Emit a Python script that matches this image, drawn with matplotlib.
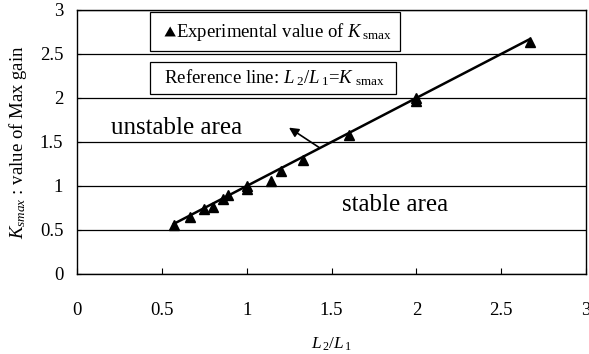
import numpy as np
import matplotlib.pyplot as plt

plt.rcParams['font.family'] = 'Liberation Serif'
plt.rcParams['mathtext.fontset'] = 'custom'
plt.rcParams['mathtext.rm'] = 'Liberation Serif'
plt.rcParams['mathtext.it'] = 'Liberation Serif:italic'
plt.rcParams['mathtext.fallback'] = 'stix'

# experimental points (L2/L1, Ksmax)
ratio = [0.571, 0.667, 0.75, 0.8, 0.857, 0.889, 1.0, 1.0, 1.143, 1.2, 1.333, 1.6, 2.0, 2.0, 2.667]
k_smax = [0.56, 0.65, 0.74, 0.76, 0.85, 0.90, 1.00, 0.97, 1.06, 1.17, 1.29, 1.58, 1.97, 2.00, 2.63]
ref_x = [0.571, 2.667]

fig = plt.figure(figsize=(5.89, 3.54), dpi=100)
ax = fig.add_axes([0.131, 0.226, 0.864, 0.746])

ax.plot(ref_x, ref_x, color='black', lw=1.8, zorder=3)
ax.plot(ratio, k_smax, linestyle='none', marker='^', color='black', ms=7, zorder=4)

ax.set_xlim(0, 3)
ax.set_ylim(0, 3)
ax.set_xticks(np.arange(0, 3.01, 0.5))
ax.set_yticks(np.arange(0, 3.01, 0.5))
ax.set_xticklabels(['0', '0.5', '1', '1.5', '2', '2.5', '3'])
ax.set_yticklabels(['0', '0.5', '1', '1.5', '2', '2.5', '3'])
ax.tick_params(axis='x', direction='in', length=4, labelsize=13.5, pad=20)
ax.tick_params(axis='y', direction='in', length=3, labelsize=13.5, pad=10)
ax.yaxis.grid(True, color='black', lw=0.9)
for s in ax.spines.values():
    s.set_linewidth(1.0)

ax.set_xlabel(r'$L_{\,2}/L_{\,1}$', fontsize=12.5)
ax.xaxis.set_label_coords(0.5, -0.235)
ax.set_ylabel(r'$K_{smax}$ : value of Max gain', fontsize=13.5, labelpad=8)

# legend-like boxes
ax.text(0.48, 2.75, r' $\blacktriangle$Experimental value of $K\,_{\mathrm{smax}}$', fontsize=13.5,
        bbox=dict(boxstyle='square,pad=0.45', fc='white', ec='black', lw=0.9),
        va='center', ha='left')
ax.text(0.46, 2.23, r'  Reference line: $L_{\;2}/L_{\;1}$=$K\;_{\mathrm{smax}}$  ', fontsize=13.5,
        bbox=dict(boxstyle='square,pad=0.3', fc='white', ec='black', lw=0.9),
        va='center', ha='left')

ax.text(0.2, 1.66, 'unstable area', fontsize=18, va='center')
ax.text(1.56, 0.78, 'stable area', fontsize=18, va='center')

ax.annotate('', xy=(1.235, 1.68), xytext=(1.44, 1.42),
            arrowprops=dict(arrowstyle='-|>', color='black', lw=1.2, mutation_scale=14))

fig.savefig('out.png', dpi=100)
